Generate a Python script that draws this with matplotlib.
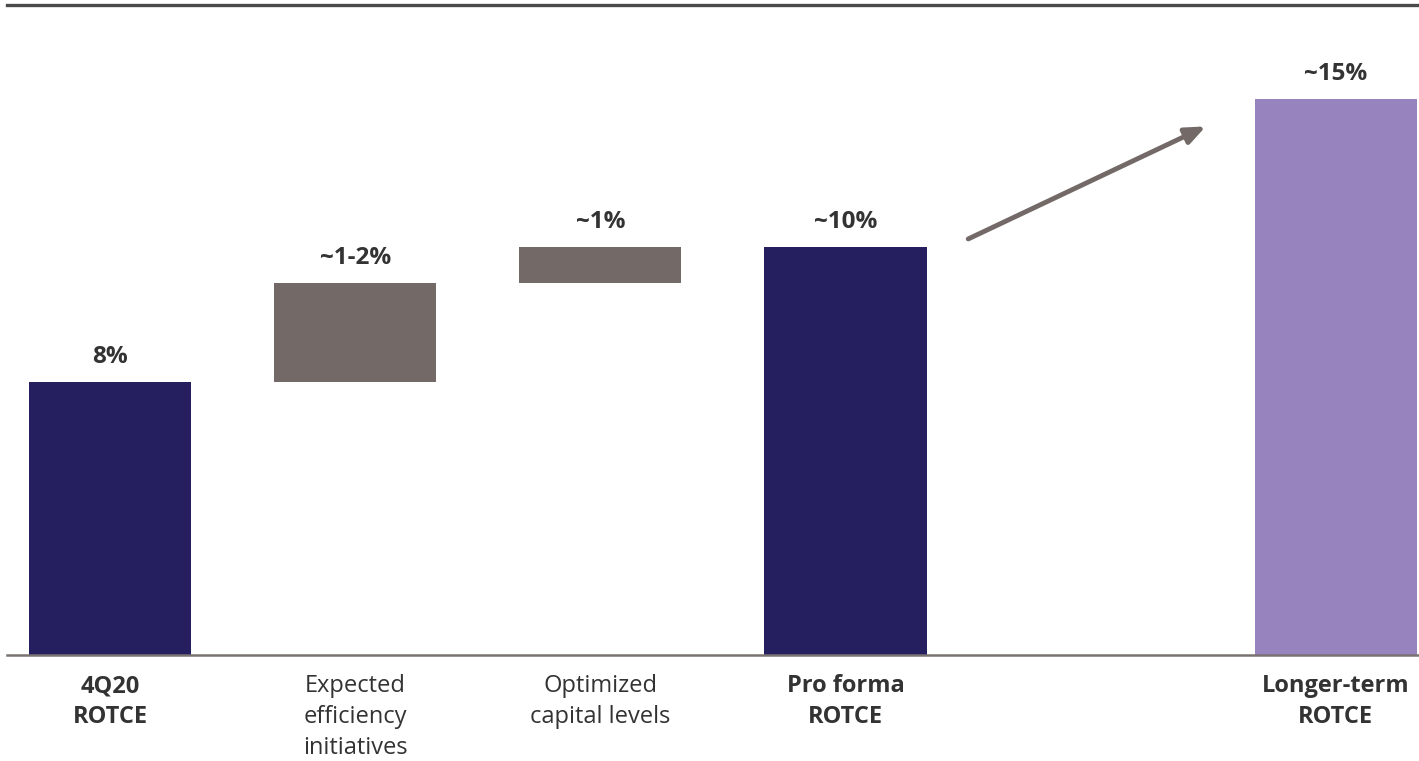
import matplotlib.pyplot as plt
from matplotlib import font_manager

# data
categories = ["4Q20\nROTCE", "Expected\nefficiency\ninitiatives", "Optimized\ncapital levels",
              "Pro forma\nROTCE", "Longer-term\nROTCE"]
value_labels = ["8%", "~1-2%", "~1%", "~10%", "~15%"]
bar_bottom = [0.0, 8.0, 10.9, 0.0, 0.0]
bar_top = [8.0, 10.9, 11.95, 11.95, 16.3]
positions = [0, 1, 2, 3, 5]
bold_label = [True, False, False, True, True]
colors = ["#251f5f", "#736a67", "#736a67", "#251f5f", "#9783bd"]

plt.rcParams['font.family'] = ["Open Sans", "DejaVu Sans"]

fig = plt.figure(figsize=(14.19, 7.61), dpi=100)
ax = fig.add_axes([7 / 1419, 1 - 655 / 761, 1 - 7 / 1419, 650 / 761])

width = 0.661
heights = [t - b for t, b in zip(bar_top, bar_bottom)]
ax.bar(positions, heights, bottom=bar_bottom, width=width, color=colors, zorder=1)

for x, t, lab in zip(positions, bar_top, value_labels):
    ax.annotate(lab, (x, t), xytext=(0, 18), textcoords="offset points",
                ha="center", va="center", fontsize=17.5, fontweight="bold", color="#333333")

for x, lab, b in zip(positions, categories, bold_label):
    ax.annotate(lab, (x, 0), xytext=(0, -14), textcoords="offset points",
                ha="center", va="top", fontsize=17, linespacing=1.38,
                fontweight="bold" if b else "normal", color="#333333")

# growth arrow from pro forma to longer-term
ax.annotate("", xy=(positions[4] - width / 2 - 0.2, bar_top[4] - 0.8),
            xytext=(positions[3] + width / 2 + 0.17, bar_top[3] + 0.25),
            arrowprops=dict(arrowstyle="-|>,head_length=1.2,head_width=0.5",
                            color="#736a67", lw=3.5, shrinkA=0, shrinkB=0))

ax.set_xlim(-0.42, 5.339)
ax.set_ylim(0, 19.06)
ax.set_xticks([])
ax.set_yticks([])
for s in ["left", "right"]:
    ax.spines[s].set_visible(False)
ax.spines["top"].set_color("#4a4a4a")
ax.spines["top"].set_linewidth(2.4)
ax.spines["bottom"].set_color("#7a7270")
ax.spines["bottom"].set_linewidth(1.8)
ax.spines["bottom"].set_zorder(3)

plt.savefig("out.png", dpi=100)
